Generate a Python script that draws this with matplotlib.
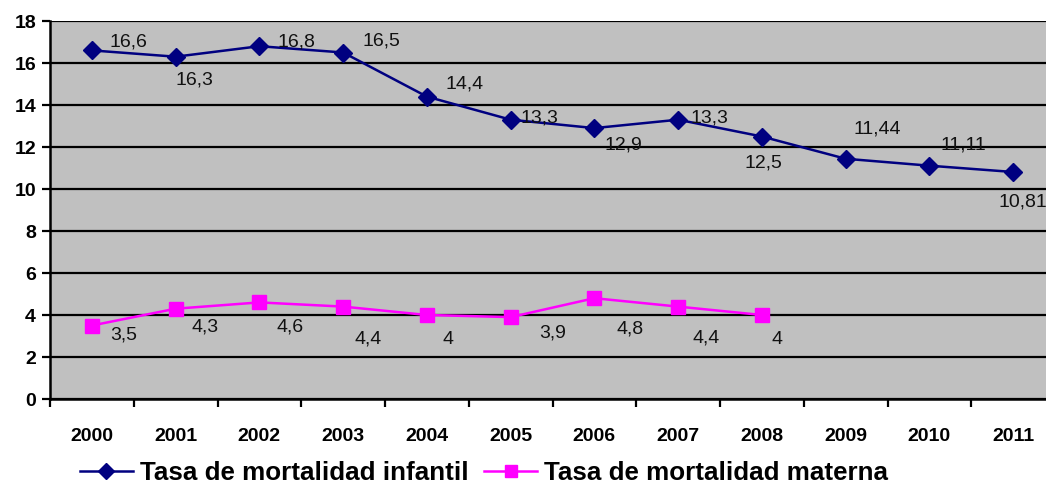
import matplotlib
matplotlib.use("Agg")
import matplotlib.pyplot as plt
import numpy as np

plt.rcParams["font.family"] = ["Liberation Sans", "DejaVu Sans"]

years = ["2000", "2001", "2002", "2003", "2004", "2005",
         "2006", "2007", "2008", "2009", "2010", "2011"]
infantil = [16.6, 16.3, 16.8, 16.5, 14.4, 13.3, 12.9, 13.3, 12.5, 11.44, 11.11, 10.81]
materna = [3.5, 4.3, 4.6, 4.4, 4.0, 3.9, 4.8, 4.4, 4.0]
infantil_labels = ["16,6", "16,3", "16,8", "16,5", "14,4", "13,3",
                   "12,9", "13,3", "12,5", "11,44", "11,11", "10,81"]
materna_labels = ["3,5", "4,3", "4,6", "4,4", "4", "3,9", "4,8", "4,4", "4"]

# label offsets in pixels (dx to left edge, dy to centre; image y downwards)
inf_off = [(18, -8), (0, 23), (18, -4), (19, -11), (19, -13), (10, -2),
           (10, 17), (12, -2), (-17, 27), (8, -30), (11, -21), (-15, 30)]
mat_off = [(18, 9), (16, 18), (17, 25), (11, 32), (16, 24), (29, 16),
           (22, 31), (14, 31), (10, 25)]

W, H = 1046, 483
fig = plt.figure(figsize=(W / 100, H / 100), dpi=100)
ax = fig.add_axes([50 / W, 1 - 399 / H, 1005 / W, 378 / H])
ax.set_facecolor("#C0C0C0")

x_inf = np.arange(len(infantil))
x_mat = np.arange(len(materna))
l1, = ax.plot(x_inf, infantil, color="#000080", lw=1.8, marker="D", ms=9,
              label="Tasa de mortalidad infantil", zorder=3)
l2, = ax.plot(x_mat, materna, color="#FF00FF", lw=1.8, marker="s", ms=10,
              label="Tasa de mortalidad materna", zorder=3)

for x, y, s, (dx, dy) in zip(x_inf, infantil, infantil_labels, inf_off):
    ax.annotate(s, (x, y), xytext=(dx, -dy), textcoords="offset pixels",
                ha="left", va="center", fontsize=14, color="#111111")
for x, y, s, (dx, dy) in zip(x_mat, materna, materna_labels, mat_off):
    ax.annotate(s, (x, y), xytext=(dx, -dy), textcoords="offset pixels",
                ha="left", va="center", fontsize=14, color="#111111")

ax.set_xlim(-0.5, 11.5)
ax.set_ylim(0, 18)
ax.set_yticks(range(0, 19, 2))
ax.grid(axis="y", color="black", lw=1.6)
ax.set_axisbelow(True)

ax.set_xticks(np.arange(-0.5, 12, 1))
ax.set_xticklabels([])
ax.set_xticks(x_inf, minor=True)
ax.set_xticklabels(years, minor=True, fontweight="bold", fontsize=14)
ax.tick_params(axis="x", which="major", length=6, width=1.6, direction="out")
ax.tick_params(axis="x", which="minor", length=0, pad=21)
ax.tick_params(axis="y", length=6, width=1.6, pad=4, labelsize=14)
for lab in ax.get_yticklabels():
    lab.set_fontweight("bold")

for side in ["top", "right"]:
    ax.spines[side].set_visible(False)
ax.spines["left"].set_linewidth(1.8)
ax.spines["bottom"].set_linewidth(1.8)

fig.legend(handles=[l1, l2], loc="center", bbox_to_anchor=(484 / W, 1 - 473 / H),
           ncol=2, frameon=False, handlelength=2.05, handletextpad=0.27,
           columnspacing=0.6, markerscale=0.85, prop={"weight": "bold", "size": 18.7})

fig.savefig("out.png", dpi=100)
